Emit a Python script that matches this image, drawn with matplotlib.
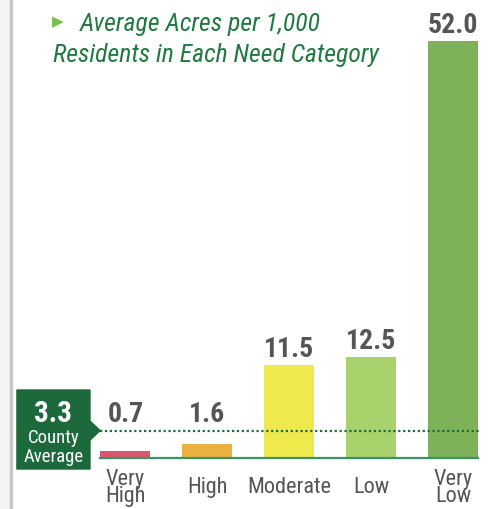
import matplotlib.pyplot as plt
from matplotlib.patches import Polygon, Rectangle

# data
categories = ["Very\nHigh", "High", "Moderate", "Low", "Very\nLow"]
acres = [0.7, 1.6, 11.5, 12.5, 52.0]
value_labels = ["0.7", "1.6", "11.5", "12.5", "52.0"]
county_avg = 3.3
bar_colors = ["#d9566b", "#eab042", "#eeea4e", "#a9d26c", "#7db259"]

narrow = ["Roboto Condensed", "DejaVu Sans"]
dark_green = "#1c6a3c"
gray_txt = "#555555"

fig = plt.figure(figsize=(4.91, 5.10), dpi=100)
W, H = 491, 510

# left margin strip + gray rule
fig.patches.append(Rectangle((0, 0), 10 / W, 1, transform=fig.transFigure,
                             color="#f3f3f3", zorder=0))
fig.patches.append(Rectangle((10 / W, 0), 1.5 / W, 1, transform=fig.transFigure,
                             color="#c8c8c8", zorder=0))

ax = fig.add_axes([84.5 / W, 52 / H, 405.5 / W, 458 / H])
ax.set_xlim(-0.5, 4.45)
ax.set_ylim(0, 57.25)
ax.axis("off")

x = list(range(len(acres)))
ax.bar(x, acres, width=0.61, color=bar_colors, zorder=2)

# baseline and county average line
ax.plot([-0.31, 4.30], [-0.12, -0.12], color="#3b9466", lw=1.6,
        clip_on=False, zorder=3)
ax.plot([-0.31, 4.33], [county_avg, county_avg], color=dark_green, lw=1.6,
        ls=(0, (1, 1.2)), clip_on=False, zorder=3)

# value labels
for xi, v, lab in zip(x, acres, value_labels):
    base = max(v, county_avg)
    ax.text(xi, base + 1.15, lab, ha="center", va="baseline", fontsize=20,
            fontweight="bold", color=gray_txt, family=narrow)

# category labels
for xi, c in zip(x, categories):
    ax.text(xi, -3.75, c, ha="center", va="center", fontsize=16,
            color=gray_txt, family=narrow, linespacing=0.78)

# county average call-out box
box = Polygon([(-1.325, 8.375), (-0.433, 8.375), (-0.433, county_avg + 1.2),
               (-0.31, county_avg), (-0.433, county_avg - 1.2),
               (-0.433, -1.5), (-1.325, -1.5)],
              closed=True, color=dark_green, clip_on=False, zorder=4)
ax.add_patch(box)
ax.text(-0.88, county_avg + 1.2, f"{county_avg:.1f}", ha="center",
        va="baseline", fontsize=21, fontweight="bold", color="white",
        family=narrow, zorder=5)
ax.text(-0.88, 1.875, "County", ha="center", va="baseline", fontsize=13.5,
        color="white", family=narrow, zorder=5)
ax.text(-0.88, -0.5, "Average", ha="center", va="baseline", fontsize=13.5,
        color="white", family=narrow, zorder=5)

# title
fig.text(52 / W, 1 - 22 / H, "\u25B6", fontsize=11, color="#7cc04e",
         va="center", ha="left")
fig.text(80 / W, 1 - 31 / H, "Average Acres per 1,000", fontsize=18.5,
         style="italic", color="#1e7a3e", family=narrow, va="baseline",
         ha="left")
fig.text(53 / W, 1 - 62 / H, "Residents in Each Need Category",
         fontsize=18.5, style="italic", color="#1e7a3e", family=narrow,
         va="baseline", ha="left")

fig.savefig("out.png", dpi=100)
